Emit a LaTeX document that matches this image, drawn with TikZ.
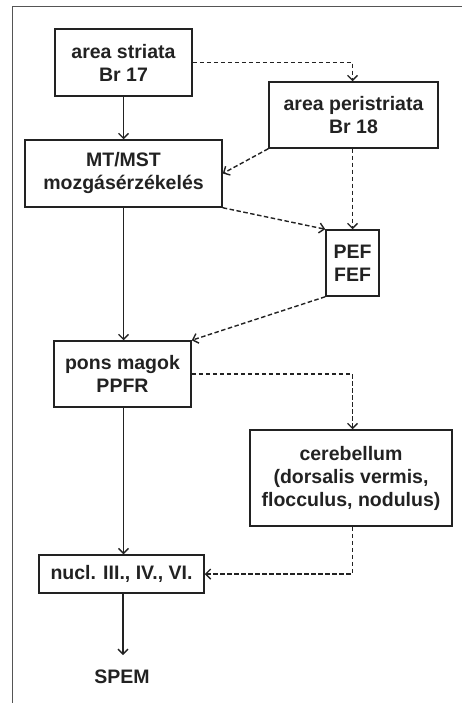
\documentclass[tikz,border=0pt]{standalone}
\usepackage{fontspec}
\setmainfont{Liberation Sans}
\usetikzlibrary{arrows.meta}
\definecolor{ink}{HTML}{222222}
\definecolor{framec}{HTML}{555555}
\tikzset{
  box/.style={draw=ink, line width=1.5pt, rectangle, inner sep=0pt, align=center,
    font=\fontsize{19.5}{23}\selectfont\bfseries, text=ink},
  lbl/.style={inner sep=0pt, font=\fontsize{19.5}{23}\selectfont\bfseries, text=ink},
  solidarrow/.style={draw=ink, line width=1.4pt, -{Straight Barb[length=5pt,width=10pt]}},
  dasharrow/.style={draw=ink, line width=1.4pt, dash pattern=on 4.5pt off 2.5pt, -{Straight Barb[length=5pt,width=10pt]}},
}
\begin{document}
\begin{tikzpicture}[x=1pt,y=-1pt]
\useasboundingbox (0,0) rectangle (462,703);
\draw[framec, line width=1.5pt] (462,6.5) -- (12.5,6.5) -- (12.5,703);

\node[box, minimum width=137pt, minimum height=67pt] (str) at (123.5,62.5) {area striata\\Br 17};
\node[box, minimum width=169pt, minimum height=66pt] (per) at (353.5,115) {area peristriata\\Br 18};
\node[box, minimum width=197pt, minimum height=67pt] (mt) at (123.5,173.5) {MT/MST\\mozgásérzékelés};
\node[box, minimum width=53pt, minimum height=66pt] (pef) at (352.5,263) {PEF\\FEF};
\node[box, minimum width=137pt, minimum height=66pt] (pons) at (122.5,374) {pons magok\\PPFR};
\node[box, minimum width=202pt, minimum height=96pt] (cer) at (351,478) {cerebellum\\(dorsalis vermis,\\flocculus, nodulus)};
\node[box, minimum width=165pt, minimum height=38pt] (nuc) at (121.5,574) {nucl. III., IV., VI.};
\node[lbl] (spem) at (122,677) {SPEM};
\coordinate (spemtop) at (123,655);

\draw[solidarrow] (str.south) -- (str.south |- mt.north);
\draw[solidarrow] (mt.south -| str.south) -- (str.south |- pons.north);
\draw[solidarrow] (pons.south -| str.south) -- (str.south |- nuc.north);
\draw[solidarrow] (nuc.south -| spemtop) -- (spemtop);

\draw[dasharrow] (str.east) -| (pef.north |- per.north);
\draw[dasharrow] (per.south west) -- (mt.east);
\draw[dasharrow] (pef.north |- per.south) -- (pef.north);
\draw[dasharrow] (mt.south east) -- (pef.north west);
\draw[dasharrow] (pef.south west) -- (pons.north east);
\draw[dasharrow] (pons.east) -| (pef.north |- cer.north);
\draw[dasharrow] (pef.north |- cer.south) |- (nuc.east);
\end{tikzpicture}
\end{document}
